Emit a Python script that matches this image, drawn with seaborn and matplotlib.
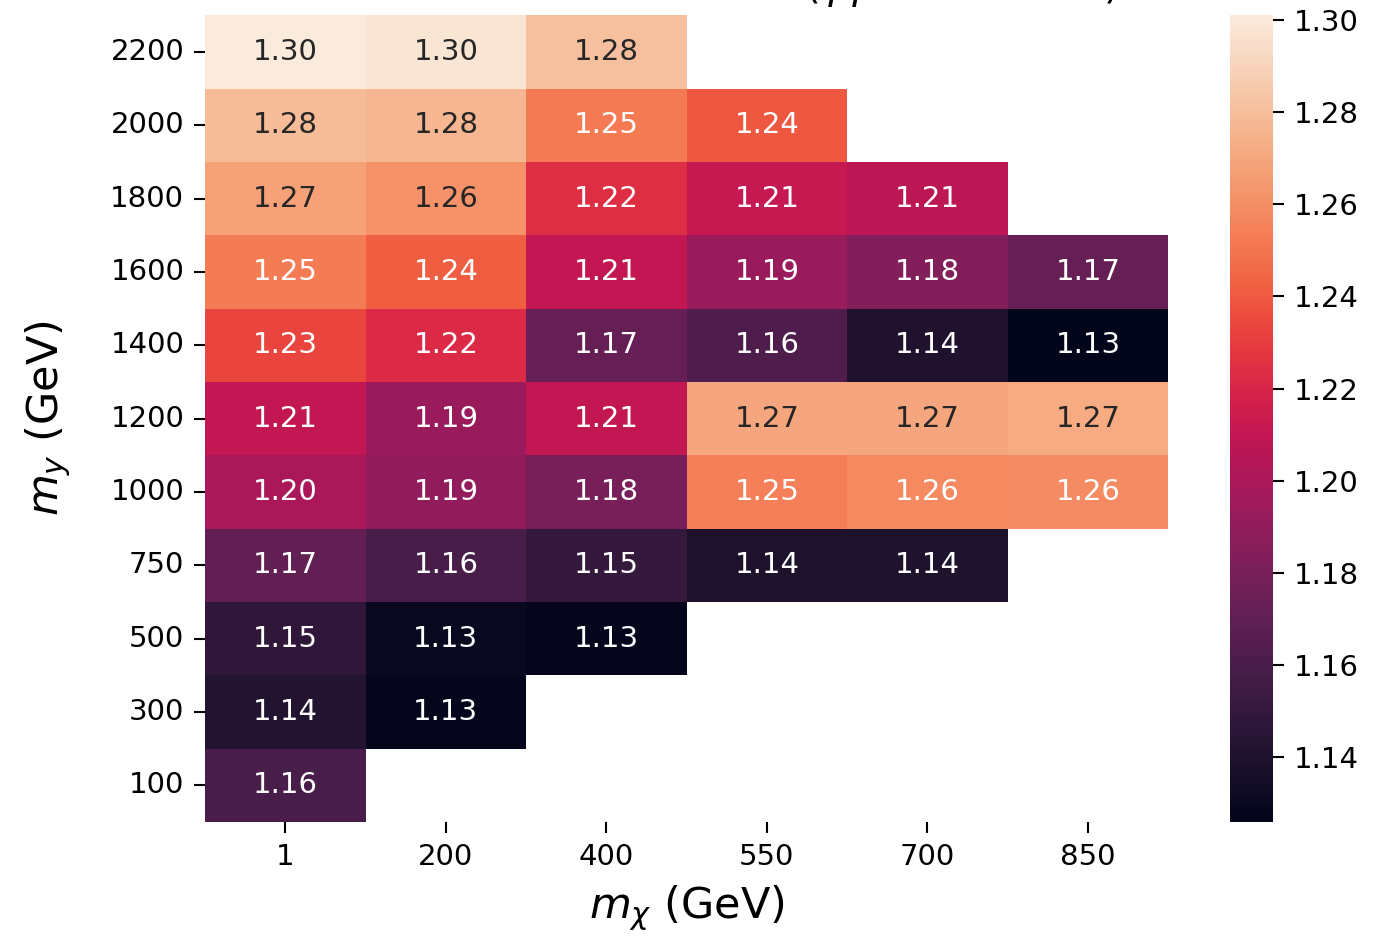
import numpy as np
import pandas as pd
import seaborn as sns
import matplotlib
matplotlib.use('Agg')
import matplotlib.pyplot as plt

# masas (GeV)
m_chi = ['1', '200', '400', '550', '700', '850']
m_y = ['2200', '2000', '1800', '1600', '1400', '1200', '1000', '750', '500', '300', '100']

nan = np.nan
# valores, fila por fila (m_y de arriba a abajo)
k_2200 = [1.301, 1.298, 1.281, nan, nan, nan]
k_2000 = [1.279, 1.277, 1.252, 1.240, nan, nan]
k_1800 = [1.268, 1.262, 1.224, 1.212, 1.208, nan]
k_1600 = [1.253, 1.242, 1.210, 1.193, 1.184, 1.172]
k_1400 = [1.233, 1.222, 1.172, 1.162, 1.141, 1.126]
k_1200 = [1.210, 1.193, 1.210, 1.270, 1.270, 1.272]
k_1000 = [1.200, 1.190, 1.180, 1.254, 1.258, 1.259]
k_750 = [1.170, 1.160, 1.150, 1.139, 1.140, nan]
k_500 = [1.148, 1.130, 1.128, nan, nan, nan]
k_300 = [1.142, 1.128, nan, nan, nan, nan]
k_100 = [1.160, nan, nan, nan, nan, nan]

filas = [k_2200, k_2000, k_1800, k_1600, k_1400, k_1200,
         k_1000, k_750, k_500, k_300, k_100]
df = pd.DataFrame(filas, index=m_y, columns=m_chi)

fig = plt.figure(figsize=(13.76, 9.38), dpi=100)
ax = fig.add_axes([0.149, 0.1237, 0.700, 0.860])
cax = fig.add_axes([0.894, 0.1237, 0.031, 0.860])

sns.heatmap(df, ax=ax, cbar_ax=cax, cmap='rocket', annot=True, fmt='.2f',
            annot_kws={'fontsize': 21})

ax.tick_params(axis='both', labelsize=21, length=8, width=1.5, pad=7)
ax.set_yticklabels(ax.get_yticklabels(), rotation=0)
ax.set_xticklabels(ax.get_xticklabels(), rotation=0)
ax.set_xlabel(r'$m_\chi$ (GeV)', fontsize=31, labelpad=9)
ax.set_ylabel(r'$m_y$ (GeV)', fontsize=31, labelpad=27)

cax.tick_params(labelsize=21, length=8, width=1.5, pad=7)
cax.set_yticks([1.14, 1.16, 1.18, 1.20, 1.22, 1.24, 1.26, 1.28, 1.30])

# el titulo queda casi fuera de la imagen, como en el original
fig.text(0.498, 1.002, r'K-factor ratio at NLO vs LO ($\gamma\gamma$ final states)',
         ha='center', va='baseline', fontsize=29)

fig.savefig('out.png', dpi=100)
